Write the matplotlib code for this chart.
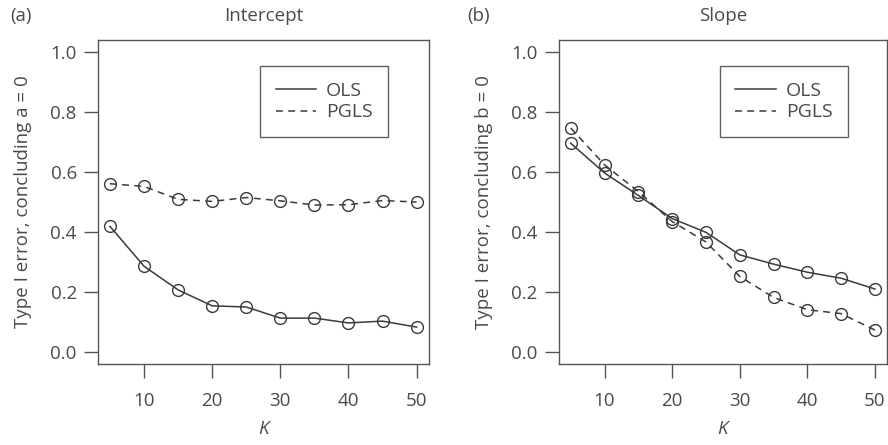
import matplotlib
matplotlib.use("Agg")
import matplotlib.pyplot as plt

plt.rcParams['font.family'] = ['Open Sans', 'DejaVu Sans']

K = [5, 10, 15, 20, 25, 30, 35, 40, 45, 50]
intercept_ols = [0.419, 0.286, 0.207, 0.154, 0.150, 0.113, 0.113, 0.097, 0.103, 0.083]
intercept_pgls = [0.561, 0.552, 0.509, 0.502, 0.515, 0.504, 0.490, 0.491, 0.505, 0.500]
slope_ols = [0.696, 0.597, 0.522, 0.445, 0.399, 0.324, 0.293, 0.266, 0.246, 0.210]
slope_pgls = [0.747, 0.624, 0.535, 0.435, 0.367, 0.252, 0.182, 0.141, 0.128, 0.073]
titles = ["Intercept", "Slope"]
panel_labels = ["(a)", "(b)"]
ylabels = ["Type I error, concluding a = 0", "Type I error, concluding b = 0"]
xticks = [10, 20, 30, 40, 50]
yticks = [0.0, 0.2, 0.4, 0.6, 0.8, 1.0]

line_c = '#3a3a3a'
frame_c = '#555555'
text_c = '#4a4a4a'

fig = plt.figure(figsize=(8.88, 4.45), dpi=100)
positions = [[0.110, 0.182, 0.373, 0.728], [0.629, 0.182, 0.370, 0.728]]
label_x = [0.011, 0.526]
data = [(intercept_ols, intercept_pgls), (slope_ols, slope_pgls)]

for i in range(2):
    ax = fig.add_axes(positions[i])
    ols, pgls = data[i]
    ax.plot(K, ols, '-', color=line_c, lw=1.1, marker='o', mfc='none', mec=line_c,
            ms=8.5, mew=1.0, label='OLS')
    ax.plot(K, pgls, '--', color=line_c, lw=1.1, marker='o', mfc='none', mec=line_c,
            ms=8.5, mew=1.0, label='PGLS', dashes=(4.5, 3.5))
    ax.set_xlim(3.2, 51.8)
    ax.set_ylim(-0.04, 1.04)
    ax.set_xticks(xticks)
    ax.set_yticks(yticks)
    ax.set_yticklabels([f"{v:.1f}" for v in yticks])
    for s in ax.spines.values():
        s.set_color(frame_c)
        s.set_linewidth(1.0)
    ax.tick_params(axis='both', direction='out', length=10, width=1.0, color=frame_c,
                   labelsize=13.5, labelcolor=text_c)
    ax.tick_params(axis='x', pad=10)
    ax.tick_params(axis='y', pad=5)
    ax.set_xlabel("K", style='italic', fontsize=13.5, color=text_c, labelpad=7)
    ax.set_ylabel(ylabels[i], fontsize=13.5, color=text_c, labelpad=13)
    ax.set_title(titles[i], fontsize=13.5, color=text_c, pad=14)
    fig.text(label_x[i], 0.963, panel_labels[i], fontsize=13.5, color=text_c,
             va='center', ha='left')
    leg = ax.legend(loc='upper left', bbox_to_anchor=(0.49, 0.92), frameon=True,
                    fancybox=False, fontsize=14, handlelength=2.1, borderpad=0.8,
                    labelspacing=0.2, handletextpad=0.5, borderaxespad=0)
    leg.get_frame().set_edgecolor(line_c)
    leg.get_frame().set_linewidth(1.0)
    for t in leg.get_texts():
        t.set_color(text_c)
    for h in leg.legend_handles:
        h.set_marker('None')

fig.savefig("out.png", dpi=100)
